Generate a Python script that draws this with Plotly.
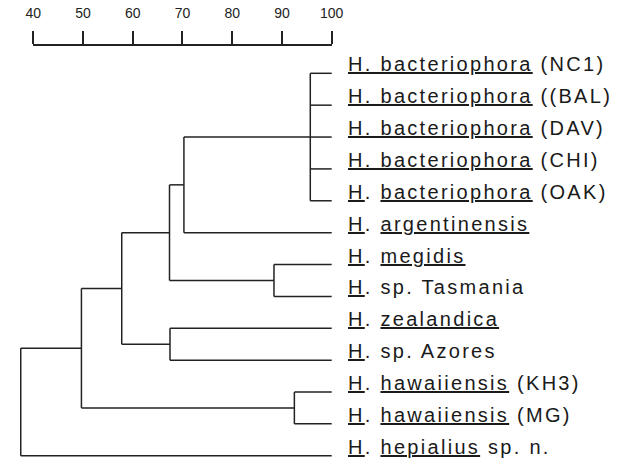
import plotly.graph_objects as go

# ---- data ----
leaf_labels = [
    "<u>H. bacteriophora</u> (NC1)",
    "<u>H. bacteriophora</u> ((BAL)",
    "<u>H. bacteriophora</u> (DAV)",
    "<u>H. bacteriophora</u> (CHI)",
    "<u>H</u>. <u>bacteriophora</u> (OAK)",
    "<u>H</u>. <u>argentinensis</u>",
    "<u>H</u>. <u>megidis</u>",
    "<u>H</u>. sp. Tasmania",
    "<u>H</u>. <u>zealandica</u>",
    "<u>H</u>. sp. Azores",
    "<u>H</u>. <u>hawaiiensis</u> (KH3)",
    "<u>H</u>. <u>hawaiiensis</u> (MG)",
    "<u>H</u>. <u>hepialius</u> sp. n.",
]
leaf_similarity = 100

# internal nodes (ids continue after the 13 leaves: 13, 14, ...)
node_children = [
    [0, 1, 2, 3, 4],   # 13 bacteriophora isolates
    [6, 7],            # 14 megidis + Tasmania
    [8, 9],            # 15 zealandica + Azores
    [10, 11],          # 16 hawaiiensis
    [13, 5],           # 17
    [17, 14],          # 18
    [18, 15],          # 19
    [19, 16],          # 20
    [20, 12],          # 21 root
]
node_similarity = [95.7, 88.4, 67.5, 92.5, 70.3, 67.4, 57.8, 49.7, 37.5]

scale_ticks = [40, 50, 60, 70, 80, 90, 100]

# ---- build dendrogram segments ----
n_leaves = len(leaf_labels)
pos = {i: float(i) for i in range(n_leaves)}
height = {i: leaf_similarity for i in range(n_leaves)}
xs, ys = [], []
for k, (children, h) in enumerate(zip(node_children, node_similarity)):
    nid = n_leaves + k
    cy = [pos[c] for c in children]
    pos[nid] = (min(cy) + max(cy)) / 2
    height[nid] = h
    xs += [h, h, None]
    ys += [min(cy), max(cy), None]
    for c in children:
        xs += [h, height[c], None]
        ys += [pos[c], pos[c], None]

FONT = "Liberation Sans, Arial, Helvetica, sans-serif"
INK = "#222222"

fig = go.Figure()
fig.add_trace(go.Scatter(
    x=xs, y=ys, mode="lines",
    line=dict(color=INK, width=1.5),
    hoverinfo="skip", showlegend=False,
))
# invisible trace that carries the similarity scale axis
fig.add_trace(go.Scatter(
    x=[scale_ticks[0], scale_ticks[-1]], y=[0, 0], xaxis="x2", yaxis="y",
    mode="markers", marker=dict(opacity=0), hoverinfo="skip", showlegend=False,
))

for i, lab in enumerate(leaf_labels):
    fig.add_annotation(
        x=leaf_similarity, y=i, xref="x", yref="y",
        text=f'<span style="letter-spacing:2.3px">{lab}</span>',
        showarrow=False, xanchor="left", yanchor="middle",
        xshift=14, yshift=9,
        font=dict(family=FONT, size=20, color="#1a1a1a"),
    )

W, H = 630, 463
px_per_unit = (334.3 - 26) / 60.0
x0 = 40 - 26 / px_per_unit
x1 = 40 + (W - 26) / px_per_unit
leaf_px = 31.87
y_top = -73.3 / leaf_px
y_bot = (H - 73.3) / leaf_px

fig.update_layout(
    width=W, height=H, autosize=False,
    margin=dict(l=0, r=0, t=0, b=0),
    paper_bgcolor="white", plot_bgcolor="rgba(0,0,0,0)",
    showlegend=False,
    xaxis=dict(range=[x0, x1], visible=False, fixedrange=True),
    yaxis=dict(range=[y_bot, y_top], visible=False, fixedrange=True),
    xaxis2=dict(
        domain=[26 / W, 334.3 / W], range=[40, 100],
        anchor="free", position=1 - 45 / H, side="top",
        tickmode="array", tickvals=scale_ticks,
        ticks="outside", ticklen=13, tickwidth=1.5, tickcolor=INK,
        showline=True, linewidth=1.5, linecolor=INK,
        showgrid=False, zeroline=False, ticklabelstandoff=8,
        tickfont=dict(family=FONT, size=14, color=INK),
        fixedrange=True,
    ),
)

fig.write_html(
    "out.html",
    config={"responsive": False, "displayModeBar": False},
    post_script="document.body.style.margin='0';document.body.style.overflow='hidden';",
)
